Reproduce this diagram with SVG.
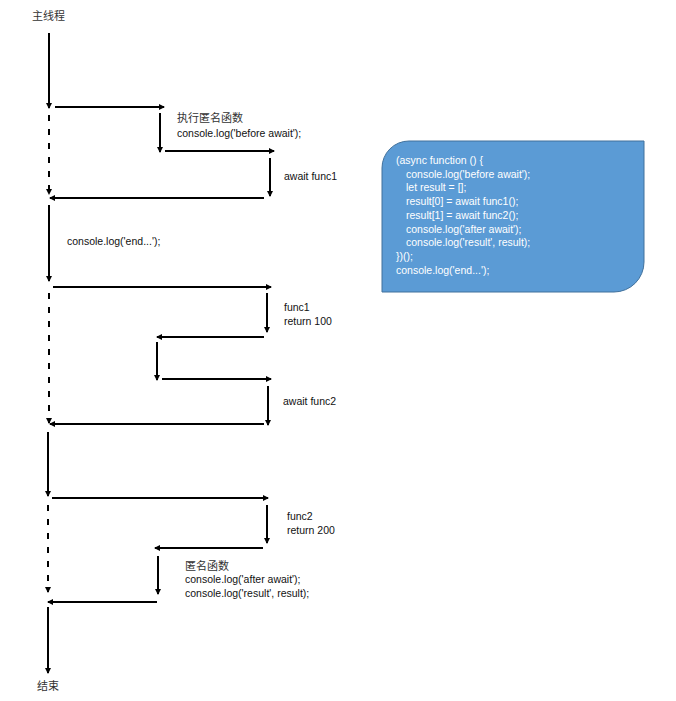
<svg xmlns="http://www.w3.org/2000/svg" width="676" height="701" viewBox="0 0 676 701">
<style>
.ln{stroke:#000;stroke-width:2;fill:none;marker-end:url(#ah)}
.dl{stroke:#000;stroke-width:2;fill:none;stroke-dasharray:6 8;marker-end:url(#ah)}
.t{font-family:"Liberation Sans","Noto Sans CJK SC",sans-serif;font-size:10.5px;fill:#111}
.c{font-family:"Noto Sans CJK SC",sans-serif;font-size:11px;fill:#333}
.b{font-family:"Liberation Sans",sans-serif;font-size:10.5px;fill:#fff}
</style>
<defs>
<marker id="ah" viewBox="0 0 6 6" refX="5" refY="3" markerWidth="6" markerHeight="6" markerUnits="userSpaceOnUse" orient="auto">
<path d="M0,0 L6,3 L0,6 z" fill="#000"/>
</marker>
</defs>
<rect width="676" height="701" fill="#fff"/>
<g id="connectors">
<path class="ln" d="M49,33 V108"/>
<path class="ln" d="M55,107 H164"/>
<path class="ln" d="M160,113 V152"/>
<path class="ln" d="M165,151 H274"/>
<path class="ln" d="M270,158 V196"/>
<path class="ln" d="M264,198 H50"/>
<path class="dl" d="M49,115 V194"/>
<path class="ln" d="M49,205 V281"/>
<path class="ln" d="M53,287 H271"/>
<path class="ln" d="M267,293 V332"/>
<path class="ln" d="M264,337 H157"/>
<path class="ln" d="M157,342 V380"/>
<path class="ln" d="M162,379 H271"/>
<path class="ln" d="M268,386 V425"/>
<path class="ln" d="M264,424 H50"/>
<path class="dl" d="M49,293 V423"/>
<path class="ln" d="M48,432 V496"/>
<path class="ln" d="M52,498 H268"/>
<path class="ln" d="M267,505 V543"/>
<path class="ln" d="M263,548 H155"/>
<path class="ln" d="M158,556 V594"/>
<path class="ln" d="M157,602 H48"/>
<path class="dl" d="M48,505 V592"/>
<path class="ln" d="M48,607 V673"/>
</g>
<g id="labels">
<text class="c" x="32" y="20">主线程</text>
<text class="c" x="177" y="122">执行匿名函数</text>
<text class="t" x="177" y="137">console.log('before await');</text>
<text class="t" x="284" y="180">await func1</text>
<text class="t" x="67" y="245">console.log('end...');</text>
<text class="t" x="284" y="311">func1</text>
<text class="t" x="284" y="325">return 100</text>
<text class="t" x="283" y="405">await func2</text>
<text class="t" x="287" y="520">func2</text>
<text class="t" x="287" y="534">return 200</text>
<text class="c" x="185" y="570">匿名函数</text>
<text class="t" x="185" y="583">console.log('after await');</text>
<text class="t" x="185" y="597">console.log('result', result);</text>
<text class="c" x="37" y="690">结束</text>
</g>
<g id="code-box">
<path d="M382,168 A27,27 0 0 1 409,141 H644 V262 A30,30 0 0 1 614,292 H382 Z" fill="#5B9BD5" stroke="#41719C" stroke-width="1"/>
<text class="b" x="396" y="164">(async function () {</text>
<text class="b" x="406" y="177.7">console.log('before await');</text>
<text class="b" x="406" y="191.4">let result = [];</text>
<text class="b" x="406" y="205.1">result[0] = await func1();</text>
<text class="b" x="406" y="218.8">result[1] = await func2();</text>
<text class="b" x="406" y="232.5">console.log('after await');</text>
<text class="b" x="406" y="246.2">console.log('result', result);</text>
<text class="b" x="396" y="259.9">})();</text>
<text class="b" x="396" y="273.6">console.log('end...');</text>
</g>
</svg>
